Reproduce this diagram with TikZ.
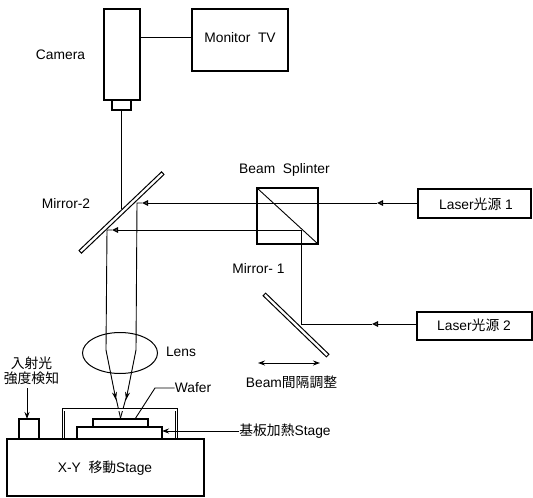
\documentclass[tikz,border=0pt]{standalone}
\usepackage{fontspec}
\setmainfont{Liberation Sans}
\newfontfamily\cjk{Noto Sans CJK JP}
\usetikzlibrary{arrows.meta,calc,shapes.geometric}
\tikzset{
  unitbox/.style={rectangle, draw=black, line width=1.3pt, inner sep=0pt, outer sep=0pt},
  mirrorbar/.style={rectangle, draw=black, line width=1pt, fill=white, minimum height=3.6pt,
    inner sep=0pt, outer sep=0pt},
  beam/.style={draw=black, line width=0.9pt},
  beamtip/.style={beam, -{Triangle[open, length=6pt, width=5.5pt, line width=1.3pt]}},
  flow/.style={draw=black, line width=0.9pt, -{Stealth[length=7pt, width=5pt]}},
  biflow/.style={draw=black, line width=0.9pt, {Stealth[length=7pt, width=5pt]}-{Stealth[length=7pt, width=5pt]}},
  covline/.style={draw=black, line width=0.8pt, double, double distance=1.9pt},
  lab/.style={font=\fontsize{13.8}{15}\selectfont, inner sep=0pt, align=center},
}
\begin{document}
\begin{tikzpicture}[x=1pt, y=-1pt]
\useasboundingbox (0,0) rectangle (533,498);
% --- camera and monitor ---
\node[unitbox, minimum width=36pt, minimum height=91pt] (camera) at (122,54.5) {};
\node[unitbox, minimum width=19pt, minimum height=10pt] (camlens) at (121.5,105) {};
\node[unitbox, minimum width=96pt, minimum height=62pt] (monitor) at (240,40) {};
\node[lab] (monitorlab) at (240,38) {Monitor\ \ TV};
\node[lab] (cameralab) at (60.5,55) {Camera};
\draw[beam] (camera.east |- 0,37) -- (monitor.west |- 0,37);
% --- optics ---
\node[mirrorbar, minimum width=114pt, rotate=43.6] (mirrorB) at (121.5,212.5) {};
\node[mirrorbar, minimum width=88pt, rotate=-44] (mirrorA) at (296,325) {};
\node[unitbox, minimum width=61pt, minimum height=56pt] (splinter) at (287.5,216) {};
\draw[beam] (splinter.north west) -- (splinter.south east);
\node[draw=black, line width=1pt, ellipse, minimum width=75pt, minimum height=41pt, inner sep=0pt] (lens) at (120,353) {};
\node[lab] (mirrorBlab) at (66,204) {Mirror-2};
\node[lab] (mirrorAlab) at (258.5,269) {Mirror- 1};
\node[lab] (splinterlab) at (284.5,170) {Beam\ \ Splinter};
\node[lab] (lenslab) at (181,352) {Lens};
% --- lasers ---
\node[unitbox, minimum width=113pt, minimum height=29pt] (laserA) at (474.5,203.5) {};
\node[lab] (laserAlab) at (476,204) {Laser{\cjk 光源} 1};
\node[unitbox, minimum width=115pt, minimum height=28pt] (laserB) at (474.5,326) {};
\node[lab] (laserBlab) at (474,325) {Laser{\cjk 光源} 2};
% --- beams ---
\coordinate (tipA) at (377,203);
\coordinate (tipB) at (372,324);
\coordinate (tipC) at (142,203);
\coordinate (tipD) at (112,230);
\coordinate (turnA) at (137,203);
\coordinate (turnB) at (107,230);
\coordinate (focus) at (120.5,418);
\draw[beamtip] (laserA.west |- tipA) -- (tipA);
\draw[beamtip] (tipA) -- (tipC);
\draw[beam] (tipC) -- (turnA) -- (136,350);
\draw[beam, -{Stealth[length=8pt, width=5pt]}] (136,350) -- (126,400);
\draw[beam] (126,398) -- (focus);
\draw[beamtip] (laserB.west |- tipB) -- (tipB);
\draw[beam] (tipB) -- (301,324) -- (301,230);
\draw[beamtip] (301,230) -- (tipD);
\draw[beam] (tipD) -- (turnB) -- (106,350);
\draw[beam, -{Stealth[length=8pt, width=5pt]}] (106,350) -- (116,400);
\draw[beam] (116,398) -- (focus);
\draw[beam] (camlens.south) -- (121.5,209);
% --- stage ---
\draw[covline] (63.5,439) -- (63.5,409.7) -- (176.5,409.7) -- (176.5,439);
\node[unitbox, fill=white, minimum width=55pt, minimum height=8pt] (wafer) at (120.5,423) {};
\node[unitbox, fill=white, minimum width=85pt, minimum height=12pt] (heater) at (119.5,433) {};
\node[unitbox, fill=white, minimum width=197pt, minimum height=57pt] (xystage) at (105.5,467.5) {};
\node[unitbox, minimum width=20pt, minimum height=20pt] (sensor) at (29,429) {};
\node[lab] (xystagelab) at (105,468) {X-Y\ \ {\cjk 移動}Stage};
\node[lab] (waferlab) at (193,388) {Wafer};
\node[lab] (heaterlab) at (285,431) {{\cjk 基板加熱}Stage};
\node[lab] (sensorlab) at (31.5,371) {{\cjk 入射光}\\[0pt]{\cjk 強度検知}};
\draw[beam] (135,419) -- (155,388) -- (waferlab.west);
\draw[flow] (heaterlab.west) -- (heater.east |- heaterlab.west);
\draw[flow] (27,388) -- (27,419);
% --- beam gap ---
\coordinate (gapL) at (258,363);
\coordinate (gapR) at (320,363);
\draw[biflow] (gapL) -- (gapR);
\node[lab] (gaplab) at (291.5,382) {Beam{\cjk 間隔調整}};
\end{tikzpicture}
\end{document}
